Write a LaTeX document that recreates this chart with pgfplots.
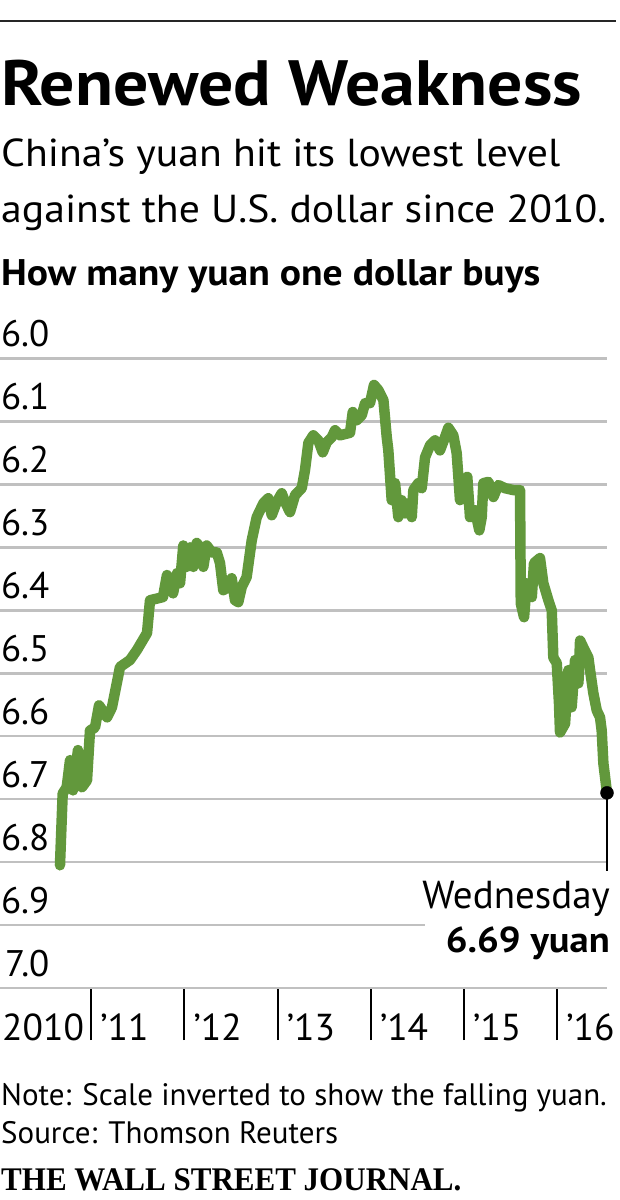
\documentclass[border=0pt]{standalone}
\usepackage{fontspec}
\setmainfont{PT Sans}
\newfontfamily\widefont{PT Sans}[FakeStretch=1.07]
\newfontfamily\titlefont{PT Sans}[FakeStretch=1.09]
\newfontfamily\wsjfont{Liberation Serif}[FakeStretch=0.94]
\usepackage{pgfplots}
\usepackage{pgfplotstable}
\pgfplotsset{compat=1.18}

\definecolor{yuangreen}{RGB}{98,152,60}
\definecolor{gridgray}{RGB}{192,192,192}

% yuan per dollar, x = years since Jan 2010
\pgfplotstableread{
t v
0.665 6.805
0.694 6.691
0.737 6.681
0.773 6.638
0.805 6.686
0.858 6.622
0.901 6.681
0.955 6.670
0.987 6.591
1.041 6.586
1.084 6.551
1.170 6.570
1.223 6.554
1.309 6.490
1.416 6.479
1.491 6.463
1.599 6.436
1.631 6.384
1.770 6.379
1.813 6.344
1.878 6.373
1.921 6.341
1.953 6.357
1.988 6.297
2.025 6.331
2.060 6.300
2.096 6.331
2.132 6.293
2.167 6.300
2.203 6.331
2.239 6.297
2.293 6.308
2.347 6.308
2.382 6.325
2.417 6.368
2.471 6.363
2.507 6.349
2.543 6.384
2.578 6.387
2.615 6.363
2.668 6.347
2.722 6.289
2.776 6.252
2.847 6.230
2.900 6.222
2.937 6.249
2.990 6.228
3.044 6.214
3.080 6.228
3.133 6.244
3.187 6.217
3.259 6.206
3.294 6.177
3.330 6.134
3.383 6.122
3.437 6.130
3.484 6.149
3.527 6.133
3.581 6.125
3.616 6.114
3.670 6.122
3.777 6.118
3.806 6.085
3.849 6.098
3.903 6.090
3.938 6.071
3.991 6.071
4.034 6.042
4.080 6.050
4.135 6.066
4.171 6.125
4.188 6.146
4.224 6.225
4.260 6.198
4.295 6.252
4.331 6.225
4.367 6.246
4.402 6.230
4.439 6.252
4.456 6.209
4.510 6.198
4.546 6.206
4.582 6.157
4.635 6.138
4.689 6.130
4.742 6.146
4.796 6.125
4.832 6.110
4.885 6.122
4.921 6.150
4.957 6.225
4.993 6.198
5.035 6.188
5.064 6.252
5.118 6.241
5.164 6.273
5.190 6.252
5.207 6.198
5.261 6.196
5.315 6.220
5.368 6.201
5.440 6.206
5.529 6.209
5.601 6.209
5.609 6.389
5.644 6.411
5.673 6.357
5.727 6.379
5.751 6.325
5.815 6.317
5.851 6.357
5.905 6.384
5.941 6.400
5.958 6.475
5.995 6.484
6.019 6.548
6.030 6.594
6.084 6.580
6.119 6.495
6.155 6.554
6.191 6.479
6.227 6.516
6.245 6.448
6.280 6.459
6.334 6.475
6.352 6.495
6.388 6.532
6.424 6.559
6.459 6.570
6.477 6.591
6.495 6.643
6.534 6.690
}\yuan

\begin{document}
\begin{tikzpicture}[x=1pt,y=1pt]
\useasboundingbox (0,0) rectangle (619,-1200);

\draw[line width=2.5pt, black!85] (0,-21) -- (616,-21);
\node[anchor=base west, inner sep=0, font=\fontsize{64}{64}\selectfont\titlefont\bfseries] at (1,-105) {Renewed Weakness};
\node[anchor=base west, inner sep=0, font=\fontsize{39}{39}\selectfont\widefont] at (1,-166) {China’s yuan hit its lowest level};
\node[anchor=base west, inner sep=0, font=\fontsize{39}{39}\selectfont\widefont] at (1,-222) {against the U.S. dollar since 2010.};
\node[anchor=base west, inner sep=0, font=\fontsize{37}{37}\selectfont\widefont\bfseries] at (1,-285) {How many yuan one dollar buys};

\begin{axis}[
  scale only axis,
  width=615.5pt, height=629.5pt,
  at={(299.25pt,-673.25pt)}, anchor=center,
  xmin=-0.0697, xmax=6.534,
  ymin=6, ymax=7,
  y dir=reverse,
  clip=false,
  axis line style={draw=none},
  ytick={6.0,6.1,6.2,6.3,6.4,6.5,6.6,6.7,6.8,7.0},
  extra y ticks={6.9},
  extra y tick style={ymajorgrids=false},
  ymajorgrids,
  grid style={gridgray, line width=2.5pt},
  ytick style={draw=none},
  % labels sit above their grid lines, right-aligned
  yticklabel style={anchor=base east, inner sep=0pt, xshift=110pt, yshift=12pt,
    font=\fontsize{37}{37}\selectfont},
  /pgf/number format/.cd, fixed, fixed zerofill, precision=1, assume math mode=true,
  /pgfplots/.cd,
  xtick={1,2,3,4,5,6},
  xticklabels={’11,’12,’13,’14,’15,’16},
  xtick pos=bottom,
  tick align=outside,
  major tick length=52pt,
  xtick style={black, line width=2pt},
  xticklabel style={anchor=base west, inner sep=0pt, xshift=9pt,
    font=\fontsize{37.5}{37.5}\selectfont},
  extra x ticks={-0.0536},
  extra x tick labels={2010},
  extra x tick style={major tick length=0pt, xticklabel style={yshift=-52pt}},
]
\draw[gridgray, line width=2.5pt] (axis cs:-0.0697,6.9) -- (axis cs:4.58,6.9);
\draw[gridgray, line width=2.5pt] (axis cs:-0.0697,7.0) -- (axis cs:6.534,7.0);
\addplot[yuangreen, line width=10.5pt, line join=round, line cap=round] table[x=t, y=v] {\yuan};
\addplot[black, line width=2pt] coordinates {(6.534,6.69) (6.534,6.814)};
\addplot[only marks, mark=*, mark size=6.5pt, black] coordinates {(6.534,6.69)};
\end{axis}

\node[anchor=base east, inner sep=0, font=\fontsize{39}{39}\selectfont] at (610,-908) {Wednesday};
\node[anchor=base east, inner sep=0, font=\fontsize{36}{36}\selectfont\widefont\bfseries] at (610,-952) {6.69 yuan};

\node[anchor=base west, inner sep=0, font=\fontsize{31}{31}\selectfont] at (1,-1105) {Note: Scale inverted to show the falling yuan.};
\node[anchor=base west, inner sep=0, font=\fontsize{31}{31}\selectfont] at (1,-1143) {Source: Thomson Reuters};
\node[anchor=base west, inner sep=0, font=\fontsize{33}{33}\selectfont\wsjfont\bfseries] at (1,-1190) {THE WALL STREET JOURNAL.};
\end{tikzpicture}
\end{document}
